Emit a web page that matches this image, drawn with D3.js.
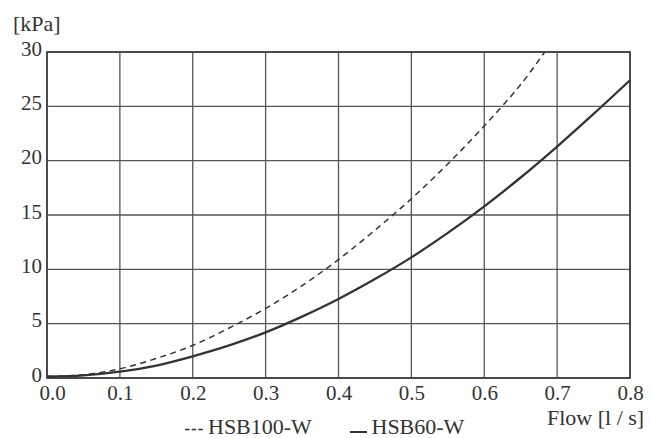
<!DOCTYPE html>
<html>
<head>
<meta charset="utf-8">
<script src="https://cdn.jsdelivr.net/npm/d3@7"></script>
<style>
  html, body { margin: 0; padding: 0; background: #fff; }
  svg { display: block; }
</style>
</head>
<body>
<svg id="chart" width="651" height="438"></svg>
<script>
// Pressure drop vs flow for the two valve types
const flowHSB100 = [0, 0.05, 0.1, 0.15, 0.2, 0.25, 0.3, 0.35, 0.4, 0.45, 0.5, 0.55, 0.6, 0.65, 0.683];
const kpaHSB100  = [0.15, 0.3, 0.85, 1.8, 3.0, 4.6, 6.4, 8.5, 10.9, 13.6, 16.5, 19.7, 23.2, 27.0, 30.0];

const flowHSB60 = [0, 0.05, 0.1, 0.15, 0.2, 0.25, 0.3, 0.35, 0.4, 0.45, 0.5, 0.55, 0.6, 0.65, 0.7, 0.75, 0.8];
const kpaHSB60  = [0.12, 0.25, 0.58, 1.15, 2.0, 3.0, 4.2, 5.65, 7.27, 9.1, 11.1, 13.35, 15.8, 18.45, 21.3, 24.3, 27.4];

const xTicks = [0, 0.1, 0.2, 0.3, 0.4, 0.5, 0.6, 0.7, 0.8];
const yTicks = [0, 5, 10, 15, 20, 25, 30];

const seriesNames = ["HSB100-W", "HSB60-W"];
const yUnit = "[kPa]";
const xTitle = "Flow [l / s]";

const FONT = '"Liberation Serif"';
const INK = "#333";

const svg = d3.select("#chart");
const plot = { left: 47, right: 630, top: 52, bottom: 378 };

const x = d3.scaleLinear().domain([0, 0.8]).range([plot.left, plot.right]);
const y = d3.scaleLinear().domain([0, 30]).range([plot.bottom, plot.top]);

// grid
const grid = svg.append("g");
grid.selectAll("line.v").data(xTicks).join("line").attr("class", "v")
  .attr("x1", d => x(d)).attr("x2", d => x(d))
  .attr("y1", plot.top).attr("y2", plot.bottom)
  .attr("stroke", "#555").attr("stroke-width", 1.3);
grid.selectAll("line.h").data(yTicks).join("line").attr("class", "h")
  .attr("x1", plot.left).attr("x2", plot.right)
  .attr("y1", d => y(d)).attr("y2", d => y(d))
  .attr("stroke", "#555").attr("stroke-width", 1.3);

// frame
svg.append("rect")
  .attr("x", plot.left).attr("y", plot.top)
  .attr("width", plot.right - plot.left).attr("height", plot.bottom - plot.top)
  .attr("fill", "none").attr("stroke", "#444").attr("stroke-width", 1.8);

// tick labels
const xAxis = d3.axisBottom(x).tickValues(xTicks).tickFormat(d3.format(".1f")).tickSize(0).tickPadding(0);
const gx = svg.append("g").attr("transform", `translate(0,${plot.bottom})`).call(xAxis);
gx.attr("font-family", FONT).attr("font-size", 21);
gx.select(".domain").remove();
gx.selectAll("text")
  .attr("dy", null).attr("y", 22)
  .attr("font-family", FONT).attr("font-size", 21)
  .attr("fill", INK);
gx.selectAll(".tick").filter(d => d === 0).select("text").attr("dx", 5);

const yAxis = d3.axisLeft(y).tickValues(yTicks).tickFormat(d3.format("d")).tickSize(0).tickPadding(0);
const gy = svg.append("g").attr("transform", `translate(${plot.left - 5},0)`).call(yAxis);
gy.attr("font-family", FONT).attr("font-size", 21);
gy.select(".domain").remove();
gy.selectAll("text")
  .attr("dy", null).attr("y", 3).attr("x", 0)
  .attr("font-family", FONT).attr("font-size", 21)
  .attr("fill", INK);

// curves
const line = d3.line().x(d => x(d[0])).y(d => y(d[1])).curve(d3.curveCatmullRom.alpha(0.5));
const dataHSB100 = flowHSB100.map((f, i) => [f, kpaHSB100[i]]);
const dataHSB60 = flowHSB60.map((f, i) => [f, kpaHSB60[i]]);

svg.append("path").datum(dataHSB100).attr("d", line)
  .attr("fill", "none").attr("stroke", INK).attr("stroke-width", 1.5)
  .attr("stroke-dasharray", "6,4.5");
svg.append("path").datum(dataHSB60).attr("d", line)
  .attr("fill", "none").attr("stroke", INK).attr("stroke-width", 2.3);

function label(xp, yp, size, str) {
  svg.append("text").attr("x", xp).attr("y", yp)
    .attr("font-family", FONT).attr("font-size", size).attr("fill", INK)
    .text(str);
}

// unit and axis title
label(13, 31, 22, yUnit);
label(547, 425, 22, xTitle);

// legend
svg.append("line").attr("x1", 185).attr("x2", 204).attr("y1", 429.5).attr("y2", 429.5)
  .attr("stroke", INK).attr("stroke-width", 1.5).attr("stroke-dasharray", "4.5,2.2");
label(208, 433.5, 22, seriesNames[0]);
svg.append("line").attr("x1", 350).attr("x2", 367).attr("y1", 432).attr("y2", 432)
  .attr("stroke", INK).attr("stroke-width", 2);
label(371.5, 433.5, 22, seriesNames[1]);
</script>
</body>
</html>
